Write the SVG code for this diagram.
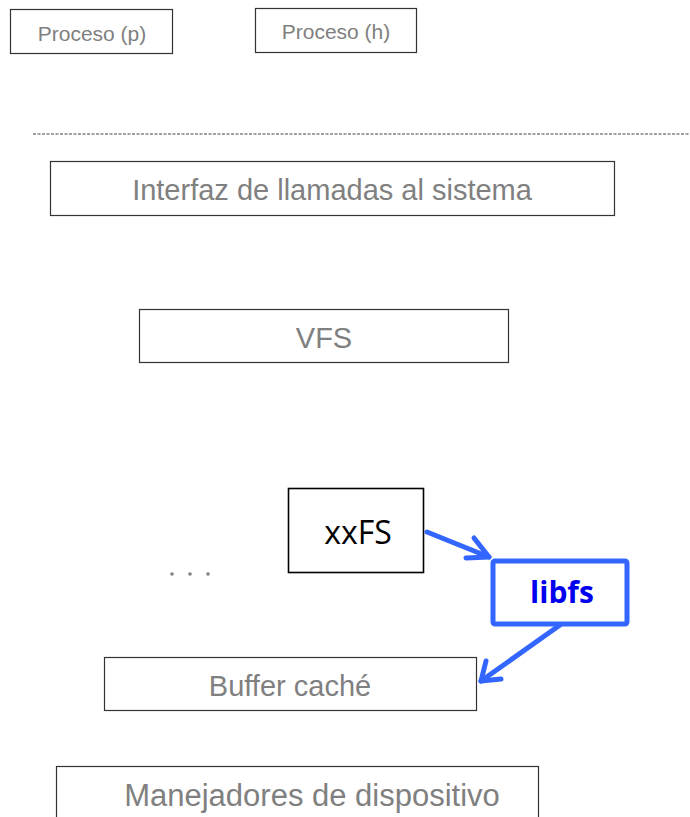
<svg xmlns="http://www.w3.org/2000/svg" width="690" height="817" viewBox="0 0 690 817">
  <style>
    .box { fill: #ffffff; stroke: #333333; stroke-width: 1.2; }
    .lbl { font-family: "Liberation Sans", Arial, sans-serif; fill: #808080; text-anchor: middle; dominant-baseline: central; }
    .conn { fill: none; stroke: #3366ff; stroke-width: 5; stroke-linecap: round; stroke-linejoin: round; }
  </style>
  <rect width="690" height="817" fill="#ffffff"/>

  <g id="proceso-p">
    <rect class="box" x="10.5" y="9.5" width="162" height="44"/>
    <text class="lbl" x="92" y="33" font-size="21">Proceso (p)</text>
  </g>
  <g id="proceso-h">
    <rect class="box" x="255.5" y="8.5" width="161" height="44"/>
    <text class="lbl" x="336" y="31" font-size="21">Proceso (h)</text>
  </g>

  <line id="user-kernel-boundary" x1="33" y1="134" x2="690" y2="134" stroke="#444444" stroke-width="1" stroke-dasharray="3,1.5"/>

  <g id="syscall-interface">
    <rect class="box" x="50.5" y="161.5" width="564" height="54"/>
    <text class="lbl" x="332" y="190" font-size="29">Interfaz de llamadas al sistema</text>
  </g>
  <g id="vfs">
    <rect class="box" x="139.5" y="309.5" width="369" height="53"/>
    <text class="lbl" x="324" y="338" font-size="29">VFS</text>
  </g>
  <g id="xxfs">
    <rect x="288.5" y="488.5" width="135" height="84" fill="#ffffff" stroke="#000000" stroke-width="1.6"/>
    <text x="358" y="531" font-family="'Open Sans', 'Noto Sans', sans-serif" font-size="32" fill="#000000" text-anchor="middle" dominant-baseline="central">xxFS</text>
  </g>
  <g id="more-fs">
    <circle cx="172" cy="574" r="1.8" fill="#808080"/>
    <circle cx="190" cy="574" r="1.8" fill="#808080"/>
    <circle cx="208" cy="574" r="1.8" fill="#808080"/>
  </g>
  <g id="libfs">
    <rect x="493" y="561" width="134" height="63" rx="2" fill="#ffffff" stroke="#3366ff" stroke-width="5"/>
    <text x="562" y="591" font-family="'Open Sans', 'Noto Sans', sans-serif" font-weight="bold" font-size="30" fill="#0000ee" text-anchor="middle" dominant-baseline="central">libfs</text>
  </g>
  <g id="buffer-cache">
    <rect class="box" x="104.5" y="657.5" width="372" height="53"/>
    <text class="lbl" x="290" y="686" font-size="29">Buffer caché</text>
  </g>
  <g id="device-drivers">
    <rect class="box" x="56.5" y="766.5" width="482" height="60"/>
    <text class="lbl" x="312" y="795" font-size="31">Manejadores de dispositivo</text>
  </g>

  <g id="connectors">
    <path class="conn" d="M427 532 L489 557"/>
    <path class="conn" d="M474 538 L489 557 L466 558"/>
    <path class="conn" d="M560 625 L481 681"/>
    <path class="conn" d="M486 661 L481 681 L501 679"/>
  </g>
</svg>
